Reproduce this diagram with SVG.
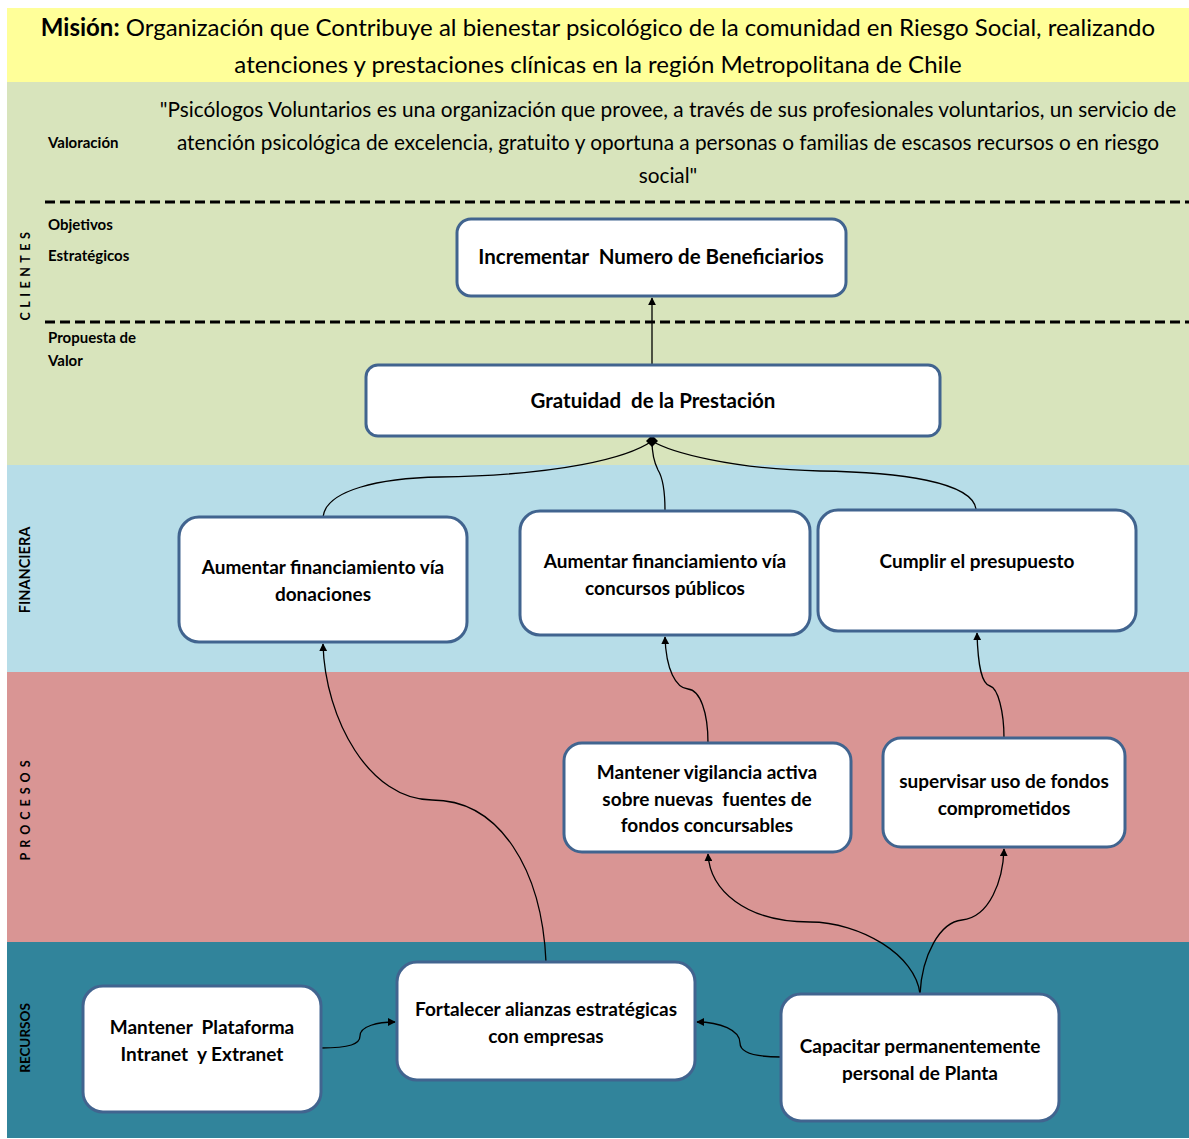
<svg xmlns="http://www.w3.org/2000/svg" width="1189" height="1139" viewBox="0 0 1189 1139">
  <defs>
    <style>
      text { font-family: Lato, "Liberation Sans", sans-serif; fill: #000; white-space: pre; }
      .node rect { fill: #fff; stroke: #41648f; stroke-width: 3; }
      .nt { font-size: 19px; font-weight: bold; text-anchor: middle; }
      .big { font-size: 20.5px; }
      .side { font-weight: bold; text-anchor: middle; }
      .lbl { font-size: 15px; font-weight: bold; }
      .conn path { fill: none; stroke: #000; stroke-width: 1.3; }
      .dash { stroke: #000; stroke-width: 3; stroke-dasharray: 10 5; }
    </style>
    <marker id="arrow" viewBox="0 0 10 10" refX="9" refY="5" markerWidth="8" markerHeight="8" markerUnits="userSpaceOnUse" orient="auto">
      <path d="M0,0 L10,5 L0,10 Z" fill="#000"/>
    </marker>
  </defs>

  <rect width="1189" height="1139" fill="#fff"/>

  <!-- perspective bands -->
  <rect x="7" y="8" width="1182" height="74" fill="#ffff99"/>
  <rect x="7" y="82" width="1182" height="383" fill="#d8e4bc"/>
  <rect x="7" y="465" width="1182" height="207" fill="#b7dde8"/>
  <rect x="7" y="672" width="1182" height="270" fill="#d99594"/>
  <rect x="7" y="942" width="1182" height="196" fill="#31849b"/>

  <line class="dash" x1="45" y1="202" x2="1189" y2="202"/>
  <line class="dash" x1="45" y1="322" x2="1189" y2="322"/>

  <!-- mission -->
  <text x="598" y="36" font-size="24" text-anchor="middle"><tspan font-weight="bold">Misión:</tspan> Organización que Contribuye al bienestar psicológico de la comunidad en Riesgo Social, realizando</text>
  <text x="598" y="73" font-size="24" text-anchor="middle">atenciones y prestaciones clínicas en la región Metropolitana de Chile</text>

  <!-- value statement -->
  <text x="668" y="117" font-size="20.8" text-anchor="middle">"Psicólogos Voluntarios es una organización que provee, a través de sus profesionales voluntarios, un servicio de</text>
  <text x="668" y="150" font-size="20.8" text-anchor="middle">atención psicológica de excelencia, gratuito y oportuna a personas o familias de escasos recursos o en riesgo</text>
  <text x="668" y="183" font-size="20.8" text-anchor="middle">social"</text>

  <!-- row labels -->
  <text class="lbl" x="48" y="148">Valoración</text>
  <text class="lbl" x="48" y="230">Objetivos</text>
  <text class="lbl" x="48" y="261">Estratégicos</text>
  <text class="lbl" x="48" y="343">Propuesta de</text>
  <text class="lbl" x="48" y="366">Valor</text>

  <!-- perspective names -->
  <text class="side" font-size="12.5" letter-spacing="4.5" transform="translate(30,274) rotate(-90)">CLIENTES</text>
  <text class="side" font-size="14.5" transform="translate(30,570) rotate(-90)">FINANCIERA</text>
  <text class="side" font-size="12.5" letter-spacing="5" transform="translate(30,808) rotate(-90)">PROCESOS</text>
  <text class="side" font-size="13.5" transform="translate(30,1038) rotate(-90)">RECURSOS</text>

  <!-- connectors -->
  <g id="connectors" class="conn">
    <path d="M652,365 L652,298" marker-end="url(#arrow)"/>
    <path d="M323,517 C326,490 380,478 440,477 C560,475 628,458 652,441"/>
    <path d="M665,511 C665,490 663,478 658,470 C654,462 652,452 652,441"/>
    <path d="M976,509 C972,482 900,472 820,471 C730,469 670,452 652,441"/>
    <path d="M546,962 C542,870 500,800 432,800 C370,800 325,720 323,644" marker-end="url(#arrow)"/>
    <path d="M708,743 C708,712 700,690 688,689 C676,688 666,670 665,637" marker-end="url(#arrow)"/>
    <path d="M1004,738 C1004,712 998,688 990,686 C982,684 978,668 977,633" marker-end="url(#arrow)"/>
    <path d="M920,994 C916,955 860,922 810,922 C745,922 710,890 708,854" marker-end="url(#arrow)"/>
    <path d="M920,994 C922,955 940,922 962,920 C990,917 1003,880 1004,849" marker-end="url(#arrow)"/>
    <path d="M321,1048 C350,1048 360,1044 360,1036 C360,1026 378,1022 395,1022" marker-end="url(#arrow)"/>
    <path d="M781,1057 C752,1057 740,1052 740,1043 C740,1030 720,1022 697,1022" marker-end="url(#arrow)"/>
    <polygon points="652,435 658,441 652,447 646,441" fill="#000"/>
  </g>

  <!-- nodes -->
  <g id="n-beneficiarios" class="node">
    <rect x="457" y="219" width="389" height="77" rx="14"/>
    <text class="nt big" x="651" y="264">Incrementar  Numero de Beneficiarios</text>
  </g>
  <g id="n-gratuidad" class="node">
    <rect x="366" y="365" width="574" height="71" rx="12"/>
    <text class="nt big" x="653" y="408">Gratuidad  de la Prestación</text>
  </g>
  <g id="n-donaciones" class="node">
    <rect x="179" y="517" width="288" height="125" rx="20"/>
    <text class="nt" x="323" y="574">Aumentar financiamiento vía</text>
    <text class="nt" x="323" y="601">donaciones</text>
  </g>
  <g id="n-concursos" class="node">
    <rect x="520" y="511" width="290" height="124" rx="20"/>
    <text class="nt" x="665" y="568">Aumentar financiamiento vía</text>
    <text class="nt" x="665" y="595">concursos públicos</text>
  </g>
  <g id="n-presupuesto" class="node">
    <rect x="818" y="510" width="318" height="121" rx="20"/>
    <text class="nt" x="977" y="568">Cumplir el presupuesto</text>
  </g>
  <g id="n-vigilancia" class="node">
    <rect x="564" y="743" width="287" height="109" rx="18"/>
    <text class="nt" x="707" y="779">Mantener vigilancia activa</text>
    <text class="nt" x="707" y="806">sobre nuevas  fuentes de</text>
    <text class="nt" x="707" y="832">fondos concursables</text>
  </g>
  <g id="n-supervisar" class="node">
    <rect x="883" y="738" width="242" height="109" rx="18"/>
    <text class="nt" x="1004" y="788">supervisar uso de fondos</text>
    <text class="nt" x="1004" y="815">comprometidos</text>
  </g>
  <g id="n-plataforma" class="node">
    <rect x="83" y="986" width="238" height="126" rx="20"/>
    <text class="nt" x="202" y="1034">Mantener  Plataforma</text>
    <text class="nt" x="202" y="1061">Intranet  y Extranet</text>
  </g>
  <g id="n-alianzas" class="node">
    <rect x="397" y="962" width="298" height="118" rx="20"/>
    <text class="nt" x="546" y="1016">Fortalecer alianzas estratégicas</text>
    <text class="nt" x="546" y="1043">con empresas</text>
  </g>
  <g id="n-capacitar" class="node">
    <rect x="781" y="994" width="278" height="127" rx="20"/>
    <text class="nt" x="920" y="1053">Capacitar permanentemente</text>
    <text class="nt" x="920" y="1080">personal de Planta</text>
  </g>
</svg>
